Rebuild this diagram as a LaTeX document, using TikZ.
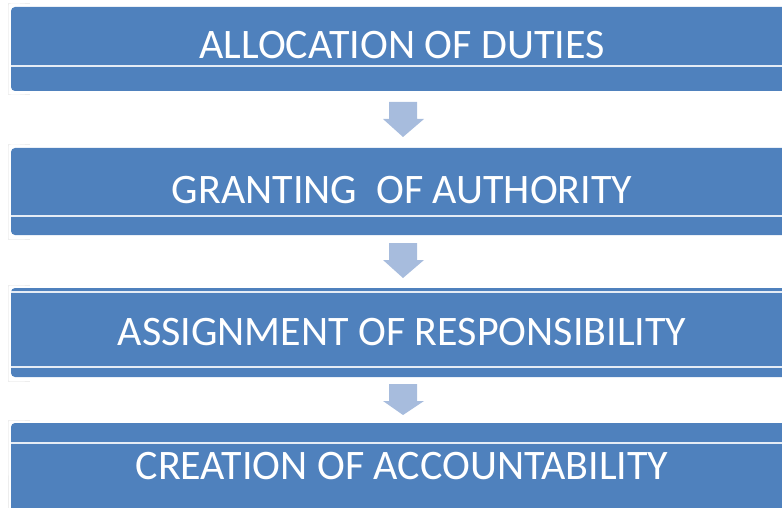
\documentclass[tikz,border=0pt]{standalone}
\usepackage{fontspec}
\setmainfont{Carlito}
\definecolor{boxblue}{RGB}{79,129,189}
\definecolor{arrowblue}{RGB}{167,188,221}
\tikzset{
  stagebox/.style={fill=boxblue,rounded corners=4pt},
  stageshadow/.style={draw=black!7,line width=1pt,rounded corners=6pt},
  stageline/.style={draw=white!85!boxblue,line width=1.2pt},
  stagetext/.style={text=white,anchor=base,font=\fontsize{42}{44}\selectfont},
  downarrow/.style={fill=arrowblue}
}
\begin{document}
\begin{tikzpicture}[x=1pt,y=-1pt]
\useasboundingbox (0,0) rectangle (782,508);
% boxes
\draw[stageshadow] (30,4)--(14,4)..controls (8,4) .. (8,10)--(8,88) .. controls (8,95) .. (14,95)--(30,95);
\fill[stagebox] (11,7) rectangle (794,91);
\draw[stageline] (11,66)--(794,66);
\draw[stageshadow] (30,145)--(14,145)..controls (8,145) .. (8,151)--(8,232) .. controls (8,239) .. (14,239)--(30,239);
\fill[stagebox] (11,148) rectangle (794,235);
\draw[stageline] (11,216)--(794,216);
\draw[stageshadow] (30,285)--(14,285)..controls (8,285) .. (8,291)--(8,374) .. controls (8,381) .. (14,381)--(30,381);
\fill[stagebox] (11,288) rectangle (794,377);
\draw[stageline] (11,292)--(794,292);
\draw[stageline] (11,367)--(794,367);
\draw[stageshadow] (30,420)--(14,420)..controls (8,420) .. (8,426)--(8,520);
\fill[stagebox] (11,423) rectangle (794,520);
\draw[stageline] (11,443)--(794,443);
% texts
\node[stagetext] (duties) at (402,59) {ALLOCATION OF DUTIES};
\node[stagetext] (authority) at (402,203) {GRANTING\ \ OF AUTHORITY};
\node[stagetext] (responsibility) at (402,345) {ASSIGNMENT OF RESPONSIBILITY};
\node[stagetext] (accountability) at (402,479) {CREATION OF ACCOUNTABILITY};
% arrows
\foreach \top/\head/\tip in {102/119/137, 243/260/278, 384/401/415}
  \fill[downarrow] (389,\top)--(417,\top)--(417,\head)--(424,\head)--(403,\tip)
    --(383,\head)--(389,\head)--cycle;
\end{tikzpicture}
\end{document}
